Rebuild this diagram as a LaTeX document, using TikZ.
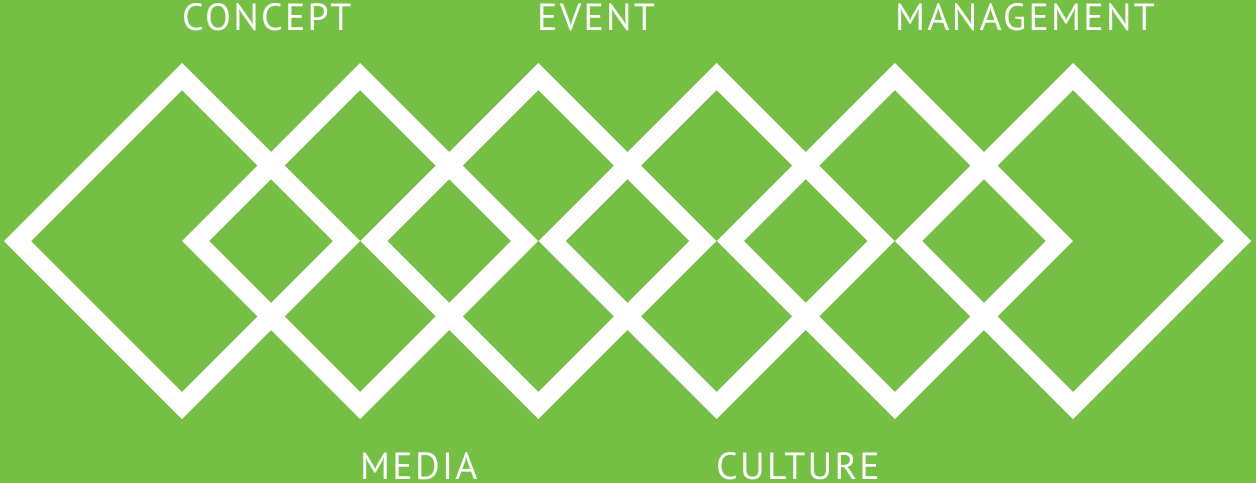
\documentclass[tikz,border=0pt]{standalone}
\usepackage{fontspec}
\setmainfont{PT Sans}[LetterSpace=6]
\definecolor{bggreen}{RGB}{116,191,68}
\tikzset{
  rhomb/.style={draw=white, line width=19.1pt, line join=miter},
  lbl/.style={text=white, inner sep=0pt, anchor=base west, font=\fontsize{37.9pt}{40pt}\selectfont}
}
\begin{document}
\begin{tikzpicture}[x=1pt,y=-1pt]
\fill[bggreen] (0,0) rectangle (1256,483);
\useasboundingbox (0,0) rectangle (1256,483);
\foreach \i in {0,...,5}{
  \pgfmathsetmacro{\cx}{182+178.2*\i}
  \draw[rhomb] (\cx-164.5,241) -- (\cx,241-164.5) -- (\cx+164.5,241) -- (\cx,241+164.5) -- cycle;
}
\node[lbl] (concept) at (182,30) {CONCEPT};
\node[lbl] (event) at (537,30) {EVENT};
\node[lbl] (management) at (895,30) {MANAGEMENT};
\node[lbl] (media) at (360,479) {MEDIA};
\node[lbl] (culture) at (716,479) {CULTURE};
\end{tikzpicture}
\end{document}
